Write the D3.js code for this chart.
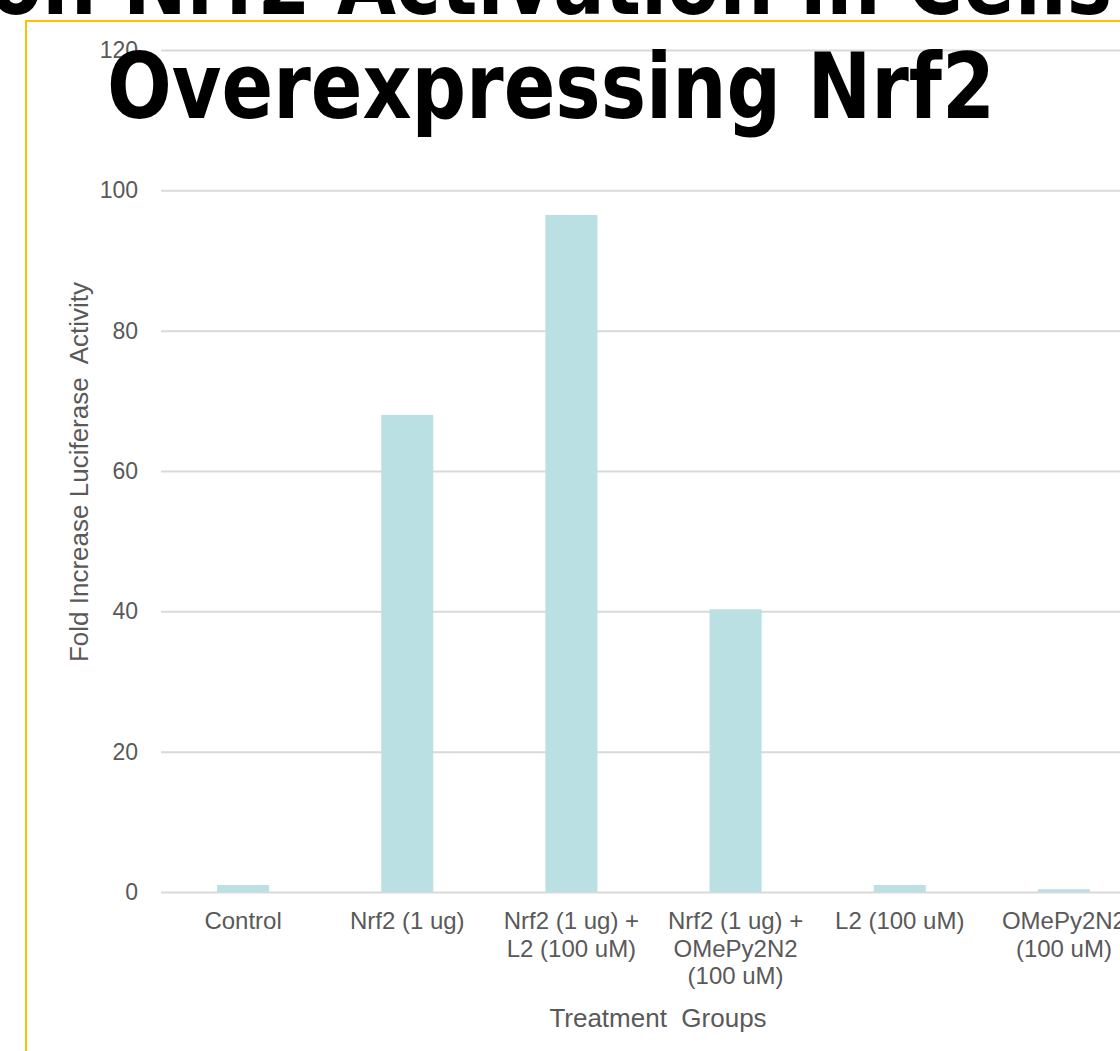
<!DOCTYPE html>
<html>
<head>
<meta charset="utf-8">
<script src="https://cdn.jsdelivr.net/npm/d3@7"></script>
<style>
  html, body { margin: 0; padding: 0; background: #fff; overflow: hidden; }
  svg { display: block; }
</style>
</head>
<body>
<script>
// Treatment groups (line breaks mark where the axis labels wrap)
const categories = [
  "Control",
  "Nrf2 (1 ug)",
  "Nrf2 (1 ug) +\nL2 (100 uM)",
  "Nrf2 (1 ug) +\nOMePy2N2\n(100 uM)",
  "L2 (100 uM)",
  "OMePy2N2\n(100 uM)"
];
// Fold increase in luciferase activity per group
const foldIncrease = [1.0, 68.0, 96.5, 40.3, 1.0, 0.4];
const yTicks = [0, 20, 40, 60, 80, 100, 120];
const titleLines = ["on Nrf2 Activation in Cells", "Overexpressing Nrf2"];

const W = 1120, H = 1051;
const plot = { left: 161, right: 1146, top: 50, bottom: 892 };

const svg = d3.select("body").append("svg")
  .attr("width", W).attr("height", H);

const x = d3.scaleBand()
  .domain(categories)
  .range([plot.left, plot.right])
  .paddingInner(0.683)
  .paddingOuter(0.3415);

const y = d3.scaleLinear()
  .domain([0, 120])
  .range([plot.bottom, plot.top]);

const textColor = "#595959";
const font = "'Liberation Sans', Arial, sans-serif";

// Horizontal gridlines with value labels
const yAxis = d3.axisLeft(y)
  .tickValues(yTicks)
  .tickSize(-(plot.right - plot.left))
  .tickPadding(23)
  .tickFormat(d3.format("d"));

const gy = svg.append("g")
  .attr("transform", `translate(${plot.left},0)`)
  .call(yAxis);
gy.select(".domain").remove();
gy.selectAll(".tick line").attr("stroke", "#d9d9d9").attr("stroke-width", 2);
gy.selectAll(".tick text")
  .attr("fill", textColor)
  .attr("font-family", font)
  .attr("font-size", 23);

// Bars
svg.append("g").selectAll("rect")
  .data(foldIncrease)
  .join("rect")
  .attr("x", (d, i) => x(categories[i]))
  .attr("width", x.bandwidth())
  .attr("y", d => y(d))
  .attr("height", d => y(0) - y(d))
  .attr("fill", "#bbe0e3");

// Category labels, wrapped onto several lines
const xAxis = d3.axisBottom(x).tickSize(0).tickPadding(0);
const gx = svg.append("g")
  .attr("transform", `translate(0,${plot.bottom})`)
  .call(xAxis);
gx.select(".domain").remove();
gx.selectAll(".tick text").each(function (d) {
  const t = d3.select(this).text(null)
    .attr("fill", textColor)
    .attr("font-family", font)
    .attr("font-size", 24)
    .attr("y", 0).attr("dy", null);
  d.split("\n").forEach((line, k) => {
    t.append("tspan").attr("x", 0).attr("y", 37 + k * 27.5).text(line);
  });
});

// Axis titles
svg.append("text")
  .attr("x", 658).attr("y", 1027)
  .attr("text-anchor", "middle")
  .attr("fill", textColor).attr("font-family", font).attr("font-size", 26)
  .attr("xml:space", "preserve")
  .text("Treatment  Groups");

svg.append("text")
  .attr("transform", `translate(88,472) rotate(-90)`)
  .attr("text-anchor", "middle")
  .attr("fill", textColor).attr("font-family", font).attr("font-size", 26)
  .attr("xml:space", "preserve")
  .text("Fold Increase Luciferase  Activity");

// Gold frame
svg.append("path")
  .attr("d", `M${W},21 H26 V${H}`)
  .attr("fill", "none").attr("stroke", "#ffc000").attr("stroke-width", 2);

// Title, narrowed so the second line spans 888px around x = 551
const titleG = svg.append("g");
const title = titleG.append("text")
  .attr("text-anchor", "middle")
  .attr("font-family", "'DejaVu Sans Condensed', 'DejaVu Sans', sans-serif")
  .attr("font-stretch", "condensed")
  .attr("font-weight", "bold")
  .attr("font-size", 91)
  .attr("fill", "#000");
const spans = titleLines.map((line, k) =>
  title.append("tspan").attr("x", 0).attr("y", 14 + k * 104).text(line));
const w2 = spans[1].node().getComputedTextLength();
const sx = 888 / w2;
titleG.attr("transform", `translate(551,0) scale(${sx},1)`);
</script>
</body>
</html>
